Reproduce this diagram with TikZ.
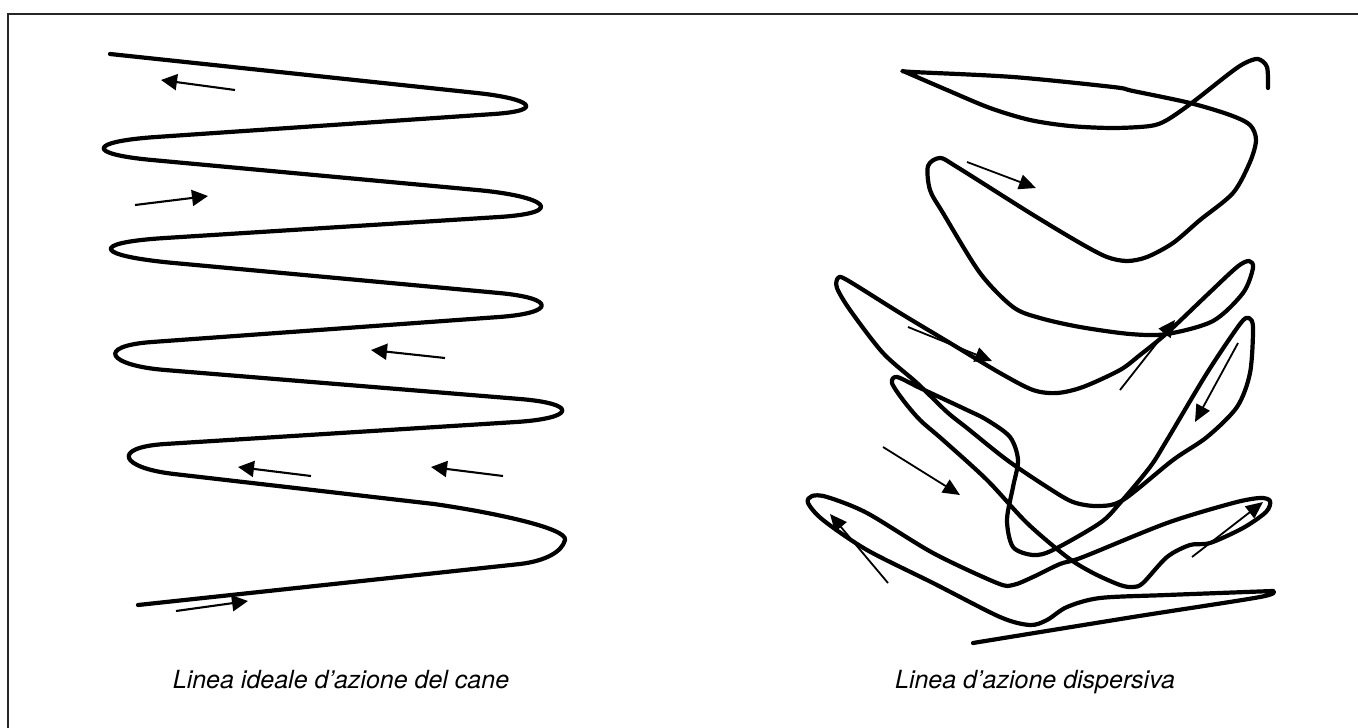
\documentclass[tikz,border=0pt]{standalone}
\usepackage{fontspec}
\setmainfont{TeX Gyre Heros}
\usetikzlibrary{arrows.meta}
\tikzset{
  curve/.style={line width=4.2pt, line join=round, line cap=round},
  arrL/.style={line width=2.1pt, -{Triangle[length=16pt,width=16pt]}},
  arrR/.style={line width=1.8pt, -{Triangle[length=17pt,width=15pt]}},
  caption/.style={font=\fontsize{25}{30}\selectfont\itshape, anchor=base, inner sep=0pt},
  frame/.style={line width=2pt, draw=black!85}
}
\begin{document}
\begin{tikzpicture}[x=1pt, y=-1pt]
\useasboundingbox (0,0) rectangle (1358,728);
\clip (0,0) rectangle (1358,728);
\fill[white] (0,0) rectangle (1358,728);
\draw[frame] (8,14) rectangle (1380,760);

% ---------- left: ideal line ----------
\draw[curve] (110,54) -- (477,93)
 .. controls (530,98.6) and (547,110.4) .. (494,114)
 -- (156,137)
 .. controls (89,141.6) and (85,153.8) .. (152,160)
 -- (477,190)
 .. controls (546,196.3) and (568,212.7) .. (499,217)
 -- (165,238)
 .. controls (87,242.9) and (96,255.8) .. (174,263)
 -- (499,293)
 .. controls (556,298.2) and (556,312.9) .. (499,317)
 -- (152,342)
 .. controls (95,346.1) and (108,365.4) .. (165,370)
 -- (520,399)
 .. controls (579,403.8) and (575,418.3) .. (516,422)
 -- (165,444)
 .. controls (111,447.4) and (120,467.8) .. (174,474)
 -- (434,504)
 .. controls (490,512) and (568,528) .. (565,540)
 .. controls (562,552) and (545,561) .. (520,564)
 -- (138,605);

\draw[arrL] (235,90) -- (161,80);
\draw[arrL] (135,205) -- (208,196);
\draw[arrL] (445,358) -- (371,350);
\draw[arrL] (311,476) -- (238,467);
\draw[arrL] (503,476) -- (431,467);
\draw[arrL] (176,611) -- (248,601);

% ---------- right: dispersive line ----------
\draw[curve] plot[smooth, tension=0.5] coordinates {
 (1268,88) (1267,67) (1258,59) (1245,63) (1230,73) (1193,102) (1167,120)
 (1150,126) (1113,128) (1070,126) (1030,120) (990,108) (947,90) (903,71)}
 -- plot[smooth, tension=0.5] coordinates {
 (903,71) (913,72) (1013,77) (1113,87) (1133,91) (1190,103) (1230,115)
 (1250,125) (1256,140) (1250,162) (1233,193) (1200,220) (1173,243)
 (1147,257) (1127,261) (1107,257) (1080,243) (1030,213) (957,167)
 (940,158) (928,166) (930,190) (943,213) (980,273) (1013,307) (1040,318)
 (1080,327) (1130,334) (1167,334) (1213,321) (1243,293) (1253,268)
 (1249,261) (1237,267) (1207,295) (1167,333) (1140,355) (1120,370)
 (1083,387) (1057,393) (1033,390) (1000,373) (950,343) (900,313)
 (847,280) (838,278) (837,288) (850,310) (883,353) (917,383) (947,412)
 (967,428) (1007,460) (1047,487) (1073,502) (1098,506) (1123,500)
 (1173,460) (1207,437) (1237,407) (1250,373) (1253,328) (1249,318)
 (1240,324) (1207,373) (1167,440) (1150,467) (1120,503) (1100,523)
 (1053,550) (1033,555) (1013,547) (1007,520) (1013,487) (1018,460)
 (1010,437) (987,420) (967,410) (920,388) (897,377) (892,383) (903,400)
 (920,420) (943,440) (987,480) (1027,523) (1067,557) (1093,573)
 (1120,585) (1133,587) (1143,583) (1167,557) (1190,545) (1210,543)
 (1243,528) (1266,512) (1270,501) (1260,498) (1233,503) (1167,523)
 (1083,557) (1060,564) (1033,577) (1013,585) (997,583) (933,553)
 (867,513) (827,497) (812,496) (808,503) (823,520) (867,550) (933,583)
 (1000,617) (1030,625) (1047,620) (1067,607) (1100,598) (1167,595)
 (1273,591)}
 -- plot[smooth, tension=0.5] coordinates {
 (1273,591) (1260,597) (1133,617) (973,643)};

\draw[arrR] (967,162) -- (1036,188);
\draw[arrR] (908,327) -- (992,361);
\draw[arrR] (1120,390) -- (1175,320);
\draw[arrR] (1238,343) -- (1195,422);
\draw[arrR] (883,447) -- (960,495);
\draw[arrR] (888,583) -- (830,514);
\draw[arrR] (1192,557) -- (1263,502);

% ---------- captions ----------
\node[caption] (capL) at (341,688) {Linea ideale d’azione del cane};
\node[caption] (capR) at (1035,688) {Linea d’azione dispersiva};
\end{tikzpicture}
\end{document}
